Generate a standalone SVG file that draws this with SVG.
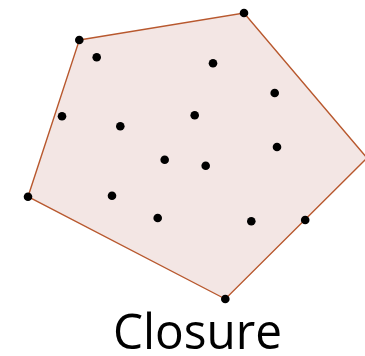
<svg xmlns="http://www.w3.org/2000/svg" width="365" height="356" viewBox="0 0 365 356">
<style>
.hull{fill:#F3E6E4;stroke:#B8582E;stroke-width:1.4;stroke-linejoin:miter}
.pt{fill:#000}
.lbl{font-family:"Open Sans","Liberation Sans",sans-serif;font-size:50px;fill:#000}
</style>
<rect width="365" height="356" fill="#fff"/>
<g id="hull">
<polygon class="hull" points="79.3,40 244,13 367,158 225.3,299 28,196.7"/>
</g>
<g id="points">
<circle class="pt" cx="79.3" cy="40" r="4.3"/>
<circle class="pt" cx="244" cy="13" r="4.3"/>
<circle class="pt" cx="225.3" cy="299" r="4.3"/>
<circle class="pt" cx="28" cy="196.7" r="4.3"/>
<circle class="pt" cx="96.7" cy="57.3" r="4.3"/>
<circle class="pt" cx="213" cy="63.3" r="4.3"/>
<circle class="pt" cx="274.7" cy="93" r="4.3"/>
<circle class="pt" cx="62" cy="116.3" r="4.3"/>
<circle class="pt" cx="120.3" cy="126.3" r="4.3"/>
<circle class="pt" cx="194.7" cy="115.3" r="4.3"/>
<circle class="pt" cx="277" cy="147" r="4.3"/>
<circle class="pt" cx="164.7" cy="159.7" r="4.3"/>
<circle class="pt" cx="205.7" cy="165.7" r="4.3"/>
<circle class="pt" cx="112" cy="195.7" r="4.3"/>
<circle class="pt" cx="157.7" cy="218" r="4.3"/>
<circle class="pt" cx="251.3" cy="221.3" r="4.3"/>
<circle class="pt" cx="305.2" cy="220" r="4.3"/>
</g>
<g id="label">
<text class="lbl" x="113" y="349" textLength="169" lengthAdjust="spacingAndGlyphs">Closure</text>
</g>
</svg>
